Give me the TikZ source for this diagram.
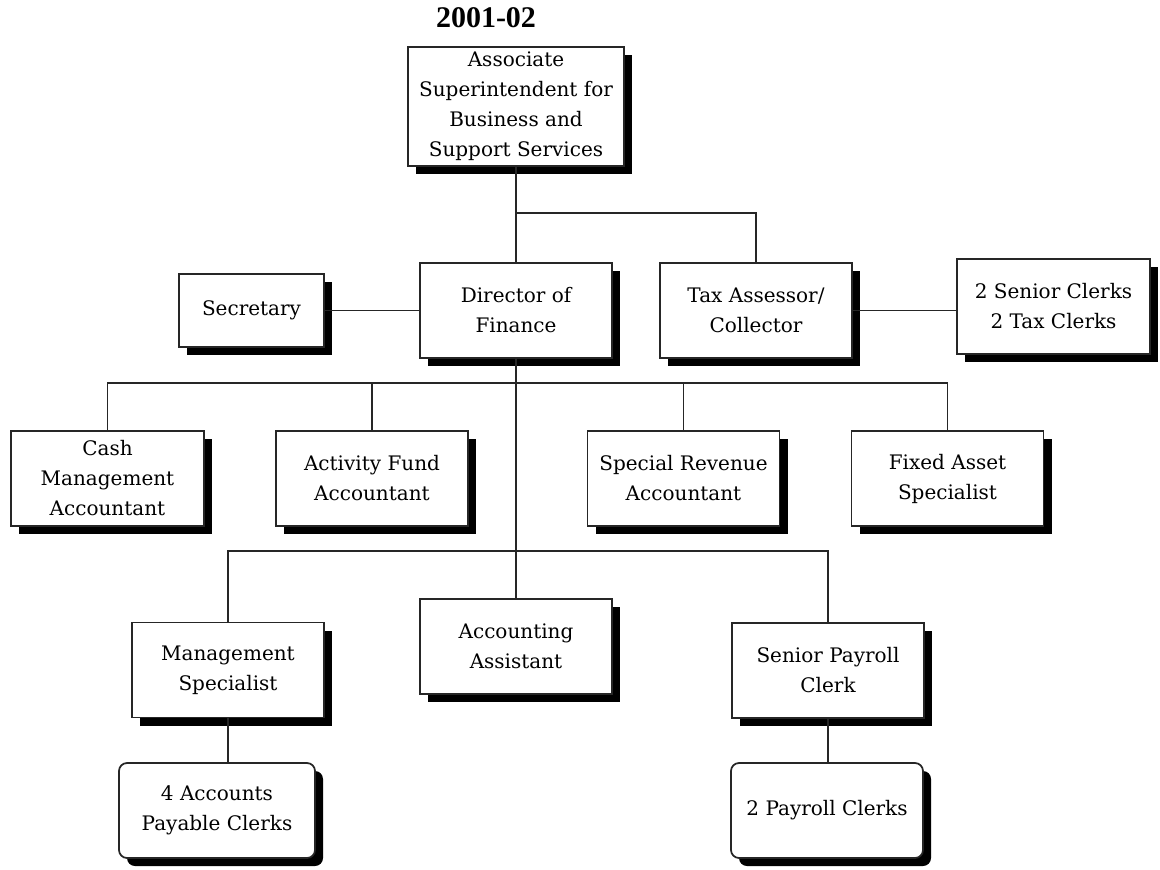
\documentclass[tikz,border=0pt]{standalone}
\usepackage{fontspec}
\setmainfont{DejaVu Serif}
\newfontfamily\headfont{Liberation Serif}
\usetikzlibrary{shadows}
\tikzset{
  orgbox/.style={draw=black!85, line width=1.3pt, fill=white, align=center,
    inner sep=2pt, font=\fontsize{15}{22.5}\selectfont,
    minimum width=144pt, minimum height=71.25pt,
    drop shadow={shadow xshift=6pt, shadow yshift=-6pt, opacity=1, fill=black}},
  roundbox/.style={orgbox, rounded corners=6pt},
  link/.style={draw=black!85, line width=1.3pt}
}
\begin{document}
\begin{tikzpicture}[x=0.75pt, y=-0.75pt]
\useasboundingbox (0,0) rectangle (1160,869);
\fill[white] (0,0) rectangle (1160,869);

% heading
\node[font=\headfont\bfseries\fontsize{22.5}{27}\selectfont, anchor=base] (title) at (486,27) {2001-02};

% boxes
\node[orgbox, minimum width=162pt, minimum height=89.25pt] (top) at (516,106.5)
  {Associate\\Superintendent for\\Business and\\Support Services};
\node[orgbox, minimum width=108.75pt, minimum height=54.75pt] (sec) at (251.5,310.5) {Secretary};
\node[orgbox] (dir) at (516,310.5) {Director of\\Finance};
\node[orgbox] (tax) at (756,310.5) {Tax Assessor/\\Collector};
\node[orgbox, minimum width=144.75pt] (clerks) at (1053.5,306.5) {2 Senior Clerks\\2 Tax Clerks};

\node[orgbox, minimum width=144.75pt] (cash) at (107.5,478.5) {Cash\\Management\\Accountant};
\node[orgbox] (act) at (372,478.5) {Activity Fund\\Accountant};
\node[orgbox] (spec) at (683.5,478.5) {Special Revenue\\Accountant};
\node[orgbox] (fixed) at (947.5,478.5) {Fixed Asset\\Specialist};

\node[orgbox] (acct) at (516,646.5) {Accounting\\Assistant};
\node[orgbox] (mgmt) at (228,670) {Management\\Specialist};
\node[orgbox] (spay) at (828,670.5) {Senior Payroll\\Clerk};

\node[roundbox, minimum width=147pt] (ap) at (217,810.5) {4 Accounts\\Payable Clerks};
\node[roundbox] (pay) at (827,810.5) {2 Payroll Clerks};

% junctions
\coordinate (j1) at (516,213);
\coordinate (b1) at (516,383);
\coordinate (b2) at (516,551);

% connectors
\draw[link] (top.south) -- (dir.north);
\draw[link] (j1) -| (tax.north);
\draw[link] (sec.east) -- (dir.west);
\draw[link] (tax.east) -- (tax.east -| clerks.west);
\draw[link] (dir.south) -- (acct.north);
\draw[link] (cash.north) |- (b1) -| (fixed.north);
\draw[link] (act.north) -- (act.north |- b1);
\draw[link] (spec.north) -- (spec.north |- b1);
\draw[link] (mgmt.north) |- (b2) -| (spay.north);
\draw[link] (mgmt.south) -- (mgmt.south |- ap.north);
\draw[link] (spay.south) -- (spay.south |- pay.north);
\end{tikzpicture}
\end{document}
